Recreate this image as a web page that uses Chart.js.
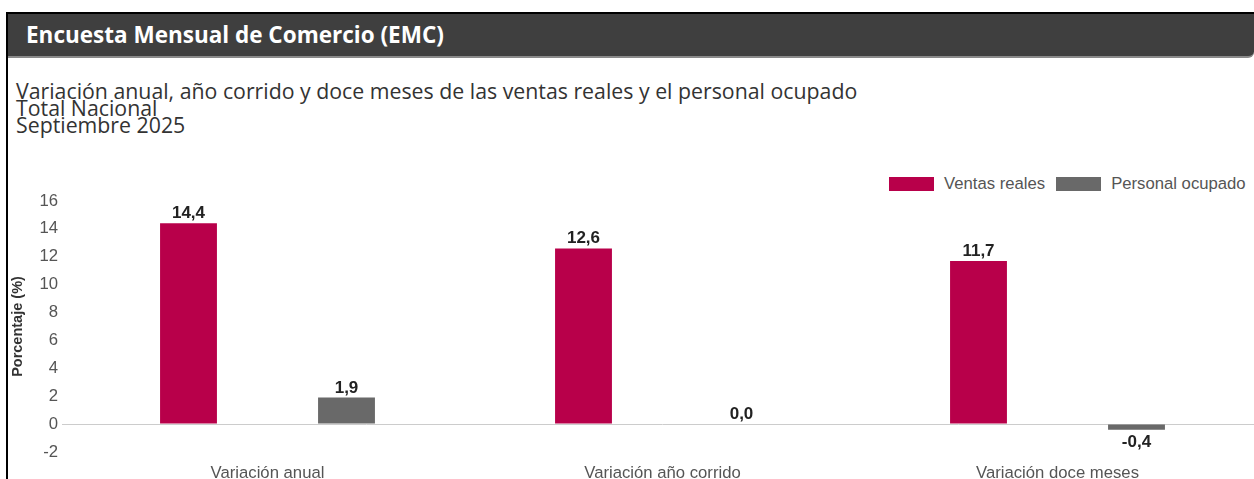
<!DOCTYPE html>
<html><head><meta charset="utf-8">
<script src="https://cdn.jsdelivr.net/npm/chart.js@4.4.1/dist/chart.umd.min.js"></script>
<style>
html,body{margin:0;padding:0;background:#fff;overflow:hidden;width:1254px;height:479px;}
#frame{position:absolute;left:6px;top:12px;width:1260px;height:480px;border-left:2px solid #000;border-top:2px solid #000;box-sizing:border-box;}
#hdr{position:absolute;left:8px;top:14px;width:1246px;height:44px;background:#3f3f3f;border-bottom:2px solid #8a8a8a;border-bottom-right-radius:6px;box-sizing:border-box;}
#hdr span{position:absolute;left:18px;top:5px;font:bold 22.5px "Open Sans";color:#fff;white-space:nowrap;}
#ttl{position:absolute;left:16px;top:82px;font:21.3px "Open Sans";color:#333;line-height:17px;white-space:nowrap;}
#leg{position:absolute;top:177px;left:889px;font:16.7px "Liberation Sans",Arial;color:#555;white-space:nowrap;}
#leg .it{display:inline-block;margin-right:11px;}
#leg .bx{display:inline-block;width:45px;height:14px;vertical-align:top;margin-right:10px;}
#leg .tx{display:inline-block;line-height:14px;vertical-align:top;}
#wrap{position:absolute;left:0;top:150px;width:1262px;height:340px;}
</style></head>
<body>
<div id="frame"></div>
<div id="hdr"><span>Encuesta Mensual de Comercio (EMC)</span></div>
<div id="ttl">Variación anual, año corrido y doce meses de las ventas reales y el personal ocupado<br>Total Nacional<br>Septiembre 2025</div>
<div id="leg"></div>
<div id="wrap"><canvas id="c"></canvas></div>
<script>
const categories = ["Variación anual", "Variación año corrido", "Variación doce meses"];
const ventasReales = [14.4, 12.6, 11.7];
const personalOcupado = [1.9, 0.0, -0.4];
const seriesNames = ["Ventas reales", "Personal ocupado"];
const seriesColors = ["#b8004a", "#696969"];
const yTicks = [-2, 0, 2, 4, 6, 8, 10, 12, 14, 16];

const leg = document.getElementById('leg');
seriesNames.forEach((n,i)=>{
  const it=document.createElement('span');it.className='it';
  it.innerHTML='<span class="bx" style="background:'+seriesColors[i]+'"></span><span class="tx">'+n+'</span>';
  leg.appendChild(it);
});

const labelPlugin = {
  id:'valLabels',
  afterDatasetsDraw(chart){
    const ctx=chart.ctx;
    ctx.save();
    ctx.font='bold 17px "Liberation Sans", Arial';
    ctx.fillStyle='#222';
    ctx.textAlign='center';
    chart.data.datasets.forEach((ds,di)=>{
      const meta=chart.getDatasetMeta(di);
      meta.data.forEach((bar,i)=>{
        const v=ds.data[i];
        const txt=v.toFixed(1).replace('.',',');
        if(v<0){ctx.textBaseline='top';ctx.fillText(txt,bar.x,bar.y+4);}
        else{ctx.textBaseline='alphabetic';ctx.fillText(txt,bar.x,Math.min(bar.y,bar.base)-5);}
      });
    });
    ctx.restore();
  }
};

new Chart(document.getElementById('c'),{
  type:'bar',
  data:{labels:categories,datasets:[
    {label:seriesNames[0],data:ventasReales,backgroundColor:seriesColors[0],categoryPercentage:0.8,barPercentage:0.36},
    {label:seriesNames[1],data:personalOcupado,backgroundColor:seriesColors[1],categoryPercentage:0.8,barPercentage:0.36}
  ]},
  options:{
    responsive:true,maintainAspectRatio:false,animation:false,
    layout:{padding:{top:51,bottom:8,left:8,right:7}},
    plugins:{legend:{display:false},tooltip:{enabled:false}},
    scales:{
      x:{
        grid:{display:false},border:{display:false},
        ticks:{color:'#555',font:{family:'"Liberation Sans", Arial',size:16.7},padding:3},
        afterFit:s=>{s.height=30;}
      },
      y:{
        min:-2,max:16,
        afterBuildTicks:s=>{s.ticks=yTicks.map(v=>({value:v}));},
        grid:{color:c=>c.tick&&c.tick.value===0?'#cccccc':'rgba(0,0,0,0)',tickLength:8},
        border:{display:false},
        ticks:{color:'#555',font:{family:'"Liberation Sans", Arial',size:16.7},padding:4},
        title:{display:true,text:'Porcentaje (%)',color:'#333',font:{family:'"Liberation Sans", Arial',size:14.5,weight:'bold'},padding:{top:1,bottom:0}},
        afterFit:s=>{s.width=62;}
      }
    }
  },
  plugins:[labelPlugin]
});
</script>
</body></html>
